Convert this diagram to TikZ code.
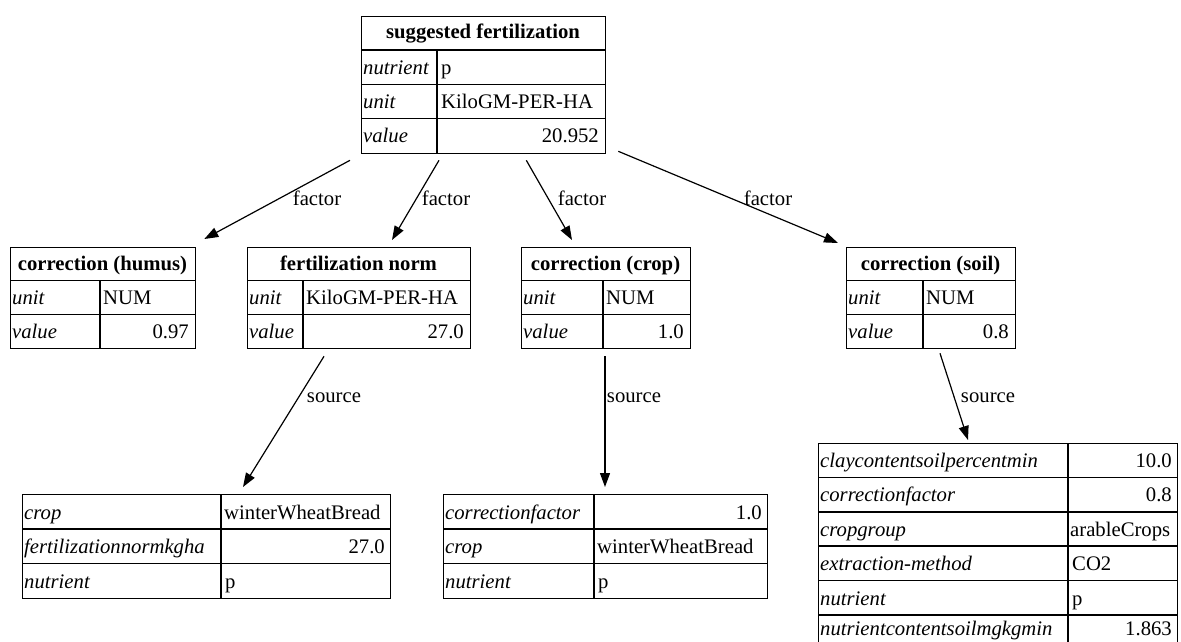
\documentclass[tikz,border=0pt]{standalone}
\usepackage{fontspec}
\setmainfont{Liberation Serif}
\usetikzlibrary{arrows.meta,calc}
\begin{document}
\begin{tikzpicture}[x=1pt,y=-1pt,
  every node/.style={font=\fontsize{20.7}{24}\selectfont, inner sep=0pt},
  box/.style={draw, line width=1.3pt, anchor=north west, minimum width=#1},
  rule/.style={line width=1.3pt},
  key/.style={anchor=base west, font=\fontsize{20.7}{24}\selectfont\itshape},
  txt/.style={anchor=base west},
  num/.style={anchor=base east},
  head/.style={anchor=base, font=\fontsize{20.7}{24}\selectfont\bfseries},
  edge/.style={-{Triangle[length=14pt,width=10pt]}, line width=1.2pt},
  lbl/.style={anchor=base}]
\useasboundingbox (0,0) rectangle (1181,641);
\clip (0,0) rectangle (1181,641);

% ---- suggested fertilization
\node[box=244pt, minimum height=137pt] (sf) at (361,16) {};
\draw[rule] (361,50) -- (605,50) (361,84.5) -- (605,84.5) (361,118.5) -- (605,118.5)
  (437,50) -- (437,153);
\node[head] (sfh) at (483,38) {suggested fertilization};
\node[key] (sfk1) at (363,74) {nutrient};   \node[txt] (sfv1) at (441,74) {p};
\node[key] (sfk2) at (363,108) {unit};      \node[txt] (sfv2) at (441,108) {KiloGM-PER-HA};
\node[key] (sfk3) at (363,142) {value};     \node[num] (sfv3) at (599,142) {20.952};

% ---- correction (humus)
\node[box=185pt, minimum height=101pt] (hu) at (10,247) {};
\draw[rule] (10,280.5) -- (195,280.5) (10,314.5) -- (195,314.5) (100,280.5) -- (100,348);
\node[head] (huh) at (102.5,270) {correction (humus)};
\node[key] (huk1) at (12,304) {unit};   \node[txt] (huv1) at (103,304) {NUM};
\node[key] (huk2) at (12,338) {value};  \node[num] (huv2) at (189,338) {0.97};

% ---- fertilization norm
\node[box=223pt, minimum height=101pt] (fn) at (247,247) {};
\draw[rule] (247,280.5) -- (470,280.5) (247,314.5) -- (470,314.5) (303,280.5) -- (303,348);
\node[head] (fnh) at (358.5,270) {fertilization norm};
\node[key] (fnk1) at (249,304) {unit};   \node[txt] (fnv1) at (306,304) {KiloGM-PER-HA};
\node[key] (fnk2) at (249,338) {value};  \node[num] (fnv2) at (464,338) {27.0};

% ---- correction (crop)
\node[box=169pt, minimum height=101pt] (cc) at (521,247) {};
\draw[rule] (521,280.5) -- (690,280.5) (521,314.5) -- (690,314.5) (603,280.5) -- (603,348);
\node[head] (cch) at (605.5,270) {correction (crop)};
\node[key] (cck1) at (523,304) {unit};   \node[txt] (ccv1) at (606,304) {NUM};
\node[key] (cck2) at (523,338) {value};  \node[num] (ccv2) at (684,338) {1.0};

% ---- correction (soil)
\node[box=169pt, minimum height=101pt] (cs) at (846,247) {};
\draw[rule] (846,280.5) -- (1015,280.5) (846,314.5) -- (1015,314.5) (923,280.5) -- (923,348);
\node[head] (csh) at (930.5,270) {correction (soil)};
\node[key] (csk1) at (848,304) {unit};   \node[txt] (csv1) at (926,304) {NUM};
\node[key] (csk2) at (848,338) {value};  \node[num] (csv2) at (1009,338) {0.8};

% ---- fertilization norm source
\node[box=368pt, minimum height=104pt] (fs) at (22,494) {};
\draw[rule] (22,529) -- (390,529) (22,563.5) -- (390,563.5) (221,494) -- (221,598);
\node[key] (fsk1) at (24,519) {crop};                  \node[txt] (fsv1) at (224,519) {winterWheatBread};
\node[key] (fsk2) at (24,553) {fertilizationnormkgha}; \node[num] (fsv2) at (385,553) {27.0};
\node[key] (fsk3) at (24,588) {nutrient};              \node[txt] (fsv3) at (225,588) {p};

% ---- crop correction source
\node[box=324pt, minimum height=104pt] (ks) at (443,494) {};
\draw[rule] (443,529) -- (767,529) (443,563.5) -- (767,563.5) (594,494) -- (594,598);
\node[key] (ksk1) at (445,519) {correctionfactor};  \node[num] (ksv1) at (762,519) {1.0};
\node[key] (ksk2) at (445,553) {crop};              \node[txt] (ksv2) at (597,553) {winterWheatBread};
\node[key] (ksk3) at (445,588) {nutrient};          \node[txt] (ksv3) at (598,588) {p};

% ---- soil correction source
\node[box=359pt, minimum height=206pt] (ss) at (818,443) {};
\draw[rule] (818,477.5) -- (1177,477.5) (818,512) -- (1177,512) (818,546) -- (1177,546)
  (818,580.5) -- (1177,580.5) (818,615) -- (1177,615) (1068,443) -- (1068,649);
\node[key] (ssk1) at (820,467) {claycontentsoilpercentmin};  \node[num] (ssv1) at (1172,467) {10.0};
\node[key] (ssk2) at (820,501) {correctionfactor};           \node[num] (ssv2) at (1172,501) {0.8};
\node[key] (ssk3) at (820,536) {cropgroup};                  \node[txt] (ssv3) at (1070,536) {arableCrops};
\node[key] (ssk4) at (820,570) {extraction-method};          \node[txt] (ssv4) at (1072,570) {CO2};
\node[key] (ssk5) at (820,605) {nutrient};                   \node[txt] (ssv5) at (1072,605) {p};
\node[key] (ssk6) at (820,635) {nutrientcontentsoilmgkgmin}; \node[num] (ssv6) at (1172,635) {1.863};

% ---- factor edges
\draw[edge] ($(sf.south west)+(-11,6)$) -- ($(hu.north east)+(8,-8)$);
\draw[edge] ($(sf.south west)+(78,6)$) -- ($(fn.north west)+(145,-7)$);
\draw[edge] ($(sf.south east)+(-80,6)$) -- ($(cc.north west)+(51,-7)$);
\draw[edge] ($(sf.south east)+(12,-3)$) -- ($(cs.north west)+(-8,-4)$);
\node[lbl] (f1) at (317,205) {factor};
\node[lbl] (f2) at (446,205) {factor};
\node[lbl] (f3) at (582,205) {factor};
\node[lbl] (f4) at (768,205) {factor};

% ---- source edges
\draw[edge] ($(fn.south west)+(77,7)$) -- ($(fs.north west)+(221,-7)$);
\draw[edge] ($(cc.south west)+(84,7)$) -- ($(ks.north west)+(162,-7)$);
\draw[edge] ($(cs.south west)+(94,4)$) -- ($(ss.north west)+(150,-3)$);
\node[lbl] (s1) at (334,402) {source};
\node[lbl] (s2) at (634,402) {source};
\node[lbl] (s3) at (988,402) {source};
\end{tikzpicture}
\end{document}
